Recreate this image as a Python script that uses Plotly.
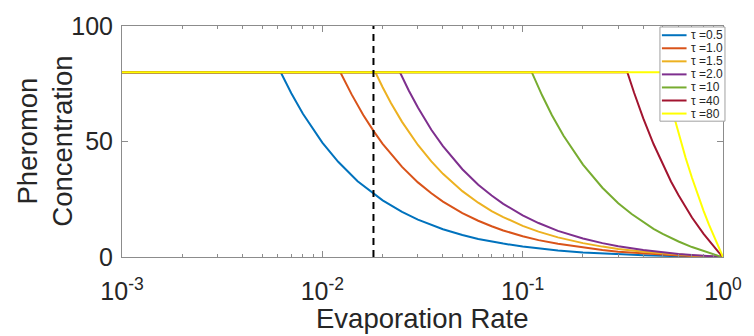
import plotly.graph_objects as go

# ---- data ----
series_names = ["τ =0.5", "τ =1.0", "τ =1.5", "τ =2.0", "τ =10", "τ =40", "τ =80"]
series_colors = ["#0072BD", "#D95319", "#EDB120", "#7E2F8E", "#77AC30", "#A2142F", "#FFFF00"]

x_tau05 = [0.001, 0.0062, 0.007, 0.008, 0.01, 0.012, 0.015, 0.018, 0.02, 0.025, 0.03, 0.04, 0.05, 0.06,
           0.07, 0.08, 0.1, 0.12, 0.15, 0.2, 0.25, 0.3, 0.4, 0.5, 0.6, 0.7, 0.8, 0.9, 0.95, 1.0]
y_tau05 = [80, 80, 70.9, 62.0, 49.5, 41.2, 32.8, 27.3, 24.5, 19.5, 16.2, 12.0, 9.5, 7.8,
           6.6, 5.8, 4.5, 3.7, 2.8, 2.0, 1.5, 1.2, 0.75, 0.5, 0.33, 0.21, 0.13, 0.06, 0.03, 0]

x_tau10 = [0.001, 0.0123, 0.014, 0.016, 0.018, 0.02, 0.025, 0.03, 0.035, 0.04, 0.05, 0.06, 0.07, 0.08,
           0.1, 0.12, 0.15, 0.2, 0.25, 0.3, 0.4, 0.5, 0.6, 0.7, 0.8, 0.9, 0.95, 1.0]
y_tau10 = [80, 80, 70.4, 61.5, 54.6, 49.0, 39.0, 32.3, 27.6, 24.0, 19.0, 15.7, 13.3, 11.5,
           9.0, 7.3, 5.7, 4.0, 3.0, 2.3, 1.5, 1.0, 0.67, 0.43, 0.25, 0.11, 0.05, 0]

x_tau15 = [0.001, 0.0184, 0.02, 0.022, 0.025, 0.03, 0.035, 0.04, 0.05, 0.06, 0.07, 0.08, 0.1, 0.12,
           0.15, 0.2, 0.25, 0.3, 0.4, 0.5, 0.6, 0.7, 0.8, 0.9, 0.95, 1.0]
y_tau15 = [80, 80, 73.5, 66.7, 58.5, 48.5, 41.4, 36.0, 28.5, 23.5, 19.9, 17.3, 13.5, 11.0,
           8.5, 6.0, 4.5, 3.5, 2.25, 1.5, 1.0, 0.64, 0.38, 0.17, 0.08, 0]

x_tau20 = [0.001, 0.0244, 0.027, 0.03, 0.035, 0.04, 0.05, 0.06, 0.07, 0.08, 0.1, 0.12, 0.15, 0.2,
           0.25, 0.3, 0.4, 0.5, 0.6, 0.7, 0.8, 0.9, 0.95, 1.0]
y_tau20 = [80, 80, 72.1, 64.7, 55.1, 48.0, 38.0, 31.3, 26.6, 23.0, 18.0, 14.7, 11.3, 8.0,
           6.0, 4.7, 3.0, 2.0, 1.33, 0.86, 0.5, 0.22, 0.1, 0]

x_tau100 = [0.001, 0.111, 0.125, 0.14, 0.16, 0.18, 0.2, 0.25, 0.3, 0.35, 0.4, 0.45, 0.5, 0.6,
            0.7, 0.8, 0.9, 0.95, 1.0]
y_tau100 = [80, 80, 70.0, 61.4, 52.5, 45.6, 40.0, 30.0, 23.3, 18.6, 15.0, 12.2, 10.0, 6.7,
            4.3, 2.5, 1.1, 0.5, 0]

x_tau400 = [0.001, 0.333, 0.36, 0.4, 0.45, 0.5, 0.55, 0.6, 0.7, 0.8, 0.9, 0.95, 1.0]
y_tau400 = [80, 80, 71.1, 60.0, 48.9, 40.0, 32.7, 26.7, 17.1, 10.0, 4.4, 2.1, 0]

x_tau800 = [0.001, 0.5, 0.55, 0.6, 0.65, 0.7, 0.75, 0.8, 0.85, 0.9, 0.95, 1.0]
y_tau800 = [80, 80, 65.5, 53.3, 43.1, 34.3, 26.7, 20.0, 14.1, 8.9, 4.2, 0]

x_series = [x_tau05, x_tau10, x_tau15, x_tau20, x_tau100, x_tau400, x_tau800]
y_series = [y_tau05, y_tau10, y_tau15, y_tau20, y_tau100, y_tau400, y_tau800]

marker_x = [0.018, 0.018]
marker_y = [0, 100]

x_tickvals = [0.001, 0.01, 0.1, 1]
x_ticktext = ["10<sup>-3</sup>", "10<sup>-2</sup>", "10<sup>-1</sup>", "10<sup>0</sup>"]
y_tickvals = [0, 50, 100]
x_title = "Evaporation Rate"
y_title = "Pheromon<br>Concentration"

# ---- figure ----
FONT = "Liberation Sans, Arial, sans-serif"
TXT = "#262626"
AX = "#8c8c8c"

fig = go.Figure()
for xs, ys, name, col in zip(x_series, y_series, series_names, series_colors):
    fig.add_trace(go.Scatter(x=xs, y=ys, mode="lines", name=name,
                             line=dict(color=col, width=2), showlegend=False))

fig.add_trace(go.Scatter(x=marker_x, y=marker_y, mode="lines", showlegend=False,
                         line=dict(color="black", width=2, dash="7px,5px")))

minor_vals = []
for d in [0.001, 0.01, 0.1]:
    for k in range(2, 10):
        minor_vals.append(d * k)

fig.update_layout(
    width=754, height=336,
    margin=dict(l=122, r=22, t=24, b=79),
    paper_bgcolor="white", plot_bgcolor="white",
    font=dict(family=FONT, color=TXT),
    xaxis=dict(type="log", range=[-3, 0], showgrid=False, zeroline=False,
               showline=True, linecolor=AX, linewidth=1, mirror="ticks",
               ticks="inside", ticklen=6, tickcolor=AX,
               tickvals=x_tickvals, ticktext=x_ticktext,
               tickfont=dict(size=25, color=TXT), ticklabelstandoff=12,
               minor=dict(tickvals=minor_vals, ticks="inside", ticklen=3, tickcolor=AX)),
    yaxis=dict(range=[0, 100], showgrid=False, zeroline=False,
               showline=True, linecolor=AX, linewidth=1, mirror="ticks",
               ticks="inside", ticklen=6, tickcolor=AX,
               tickvals=y_tickvals, tickfont=dict(size=25, color=TXT),
               ticklabelstandoff=3),
)

# axis titles
fig.add_annotation(xref="paper", yref="paper", x=0.5, y=(257 - 336.5) / 233,
                   text=x_title, showarrow=False, xanchor="center", yanchor="bottom",
                   font=dict(size=27.5, color=TXT, family=FONT))
fig.add_annotation(xref="paper", yref="paper", x=(44 - 122) / 610, y=0.5,
                   text=y_title, showarrow=False, xanchor="center", yanchor="middle",
                   textangle=-90, font=dict(size=27.5, color=TXT, family=FONT))

# legend box (drawn as in the reference, compact)
lx0, lx1 = (668 - 122) / 610, (734 - 122) / 610
ly0, ly1 = (257 - 120) / 233, (257 - 25) / 233
fig.add_shape(type="rect", xref="paper", yref="paper", x0=lx0, x1=lx1, y0=ly0, y1=ly1,
              line=dict(color="#a0a0a0", width=1), fillcolor="white", layer="above")
for i, (name, col) in enumerate(zip(series_names, series_colors)):
    yc = 33.3 + i * 13.17
    yp = (257 - yc) / 233
    fig.add_shape(type="line", xref="paper", yref="paper",
                  x0=(670 - 122) / 610, x1=(695 - 122) / 610, y0=yp, y1=yp,
                  line=dict(color=col, width=2), layer="above")
    fig.add_annotation(xref="paper", yref="paper", x=(697 - 122) / 610, y=yp,
                       text=name, showarrow=False, xanchor="left", yanchor="middle",
                       font=dict(size=12, color=TXT, family=FONT))

fig.write_html("out.html", config={"displayModeBar": False},
               post_script="document.body.style.margin='0';document.body.style.overflow='hidden';")
